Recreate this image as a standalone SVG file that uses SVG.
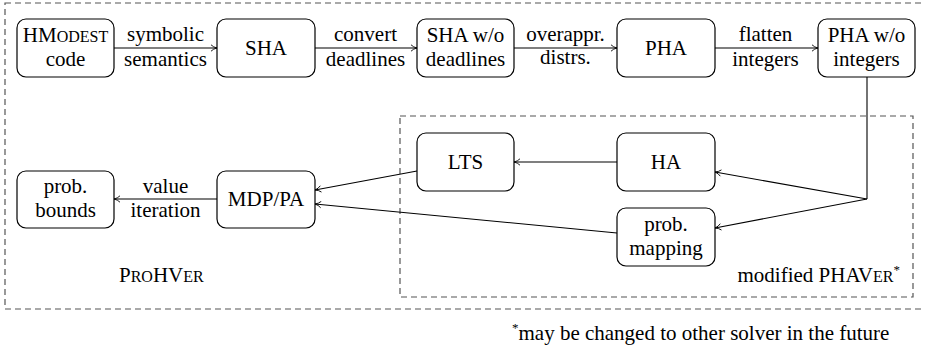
<svg xmlns="http://www.w3.org/2000/svg" width="925" height="350" viewBox="0 0 925 350" font-family="'Times New Roman', 'Liberation Serif', serif">
<defs>
<style>
text{font-family:'Times New Roman','Liberation Serif',serif;font-size:21px;fill:#000}
.c{text-anchor:middle}
.node rect{fill:#fff;stroke:#000;stroke-width:1.2}
.dash{fill:none;stroke:#555;stroke-width:1.2;stroke-dasharray:6,4}
.edge{fill:none;stroke:#000;stroke-width:1.1}
.arr{marker-end:url(#ah)}
.sc{font-size:16px}
.sup{font-size:13px}
</style>
<marker id="ah" viewBox="0 0 10 10" refX="9.5" refY="5" markerWidth="8" markerHeight="8" markerUnits="userSpaceOnUse" orient="auto">
<path d="M2,1 Q5,4 9.5,5 Q5,6 2,9" fill="none" stroke="#000" stroke-width="1.1"/>
</marker>
</defs>

<g id="frames">
<rect class="dash" x="5" y="3" width="930" height="306"/>
<rect class="dash" x="400" y="116" width="513" height="181"/>
</g>

<g id="connectors">
<path class="edge arr" d="M114,48 H217"/>
<path class="edge arr" d="M315,48 H417"/>
<path class="edge arr" d="M514,48 H617"/>
<path class="edge arr" d="M715,48 H818"/>
<path class="edge" d="M867,77 V199"/>
<path class="edge arr" d="M867,199 L715,172"/>
<path class="edge arr" d="M867,199 L715,228"/>
<path class="edge arr" d="M617,162 H514"/>
<path class="edge arr" d="M417,171 L315,190"/>
<path class="edge arr" d="M617,233 L315,204"/>
<path class="edge arr" d="M217,199 H114"/>
<text class="c" x="165.5" y="41">symbolic</text>
<text class="c" x="165.5" y="66">semantics</text>
<text class="c" x="365.5" y="41">convert</text>
<text class="c" x="365.5" y="66">deadlines</text>
<text class="c" x="565.5" y="41">overappr.</text>
<text class="c" x="565.5" y="64">distrs.</text>
<text class="c" x="765.5" y="41">flatten</text>
<text class="c" x="765.5" y="66">integers</text>
<text class="c" x="165.5" y="193">value</text>
<text class="c" x="165.5" y="217">iteration</text>
</g>

<g id="hmodest" class="node">
<rect x="17" y="19" width="97" height="58" rx="9"/>
<text class="c" x="65.5" y="42">HM<tspan class="sc">ODEST</tspan></text>
<text class="c" x="65.5" y="66">code</text>
</g>
<g id="sha" class="node">
<rect x="217" y="19" width="98" height="58" rx="9"/>
<text class="c" x="266" y="55">SHA</text>
</g>
<g id="sha-wo" class="node">
<rect x="417" y="19" width="97" height="58" rx="9"/>
<text class="c" x="465.5" y="42">SHA w/o</text>
<text class="c" x="465.5" y="66">deadlines</text>
</g>
<g id="pha" class="node">
<rect x="617" y="19" width="98" height="58" rx="9"/>
<text class="c" x="666" y="55">PHA</text>
</g>
<g id="pha-wo" class="node">
<rect x="818" y="19" width="97" height="58" rx="9"/>
<text class="c" x="866.5" y="42">PHA w/o</text>
<text class="c" x="866.5" y="66">integers</text>
</g>
<g id="lts" class="node">
<rect x="417" y="133" width="97" height="58" rx="9"/>
<text class="c" x="465.5" y="169">LTS</text>
</g>
<g id="ha" class="node">
<rect x="617" y="133" width="98" height="58" rx="9"/>
<text class="c" x="666" y="169">HA</text>
</g>
<g id="probmap" class="node">
<rect x="617" y="208" width="98" height="58" rx="9"/>
<text class="c" x="666" y="231">prob.</text>
<text class="c" x="666" y="255">mapping</text>
</g>
<g id="mdp" class="node">
<rect x="217" y="171" width="98" height="57" rx="9"/>
<text class="c" x="266" y="206">MDP/PA</text>
</g>
<g id="bounds" class="node">
<rect x="17" y="171" width="97" height="57" rx="9"/>
<text class="c" x="65.5" y="193">prob.</text>
<text class="c" x="65.5" y="217">bounds</text>
</g>

<g id="labels">
<text x="119" y="282">P<tspan class="sc">RO</tspan>HV<tspan class="sc">ER</tspan></text>
<text x="900" y="282" text-anchor="end">modified PHAV<tspan class="sc">ER</tspan><tspan class="sup" dy="-8">*</tspan></text>
<text x="512" y="340"><tspan class="sup" dy="-8">*</tspan><tspan dy="8">may be changed to other solver in the future</tspan></text>
</g>
</svg>
